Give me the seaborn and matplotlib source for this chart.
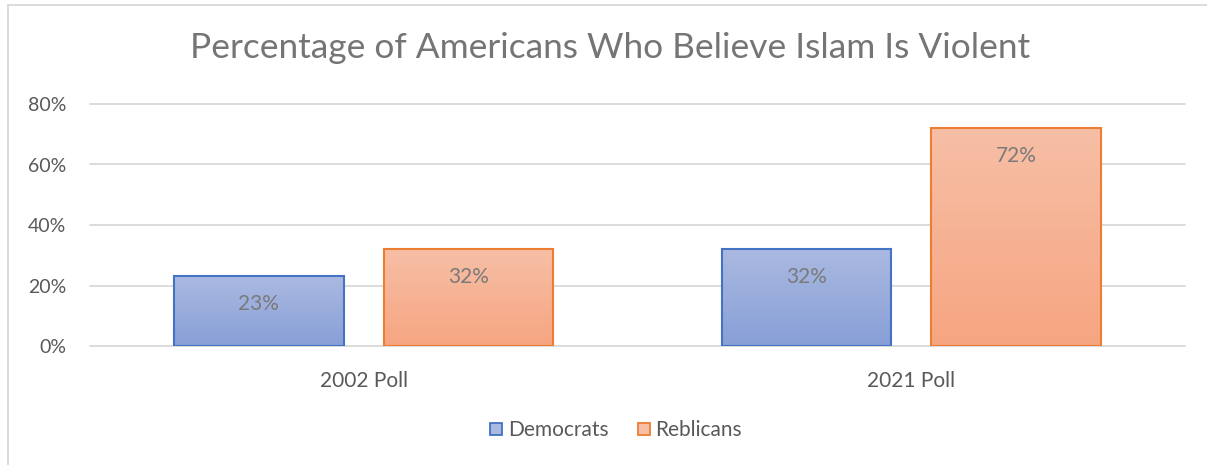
import numpy as np
import pandas as pd
import matplotlib
matplotlib.use("Agg")
import matplotlib.pyplot as plt
from matplotlib.lines import Line2D
from matplotlib.patches import Rectangle
import seaborn as sns

# Poll results (percent)
polls = ["2002 Poll", "2021 Poll"]
democrats = [23, 32]
republicans = [32, 72]
series_names = ["Democrats", "Reblicans"]
y_ticks = [0, 20, 40, 60, 80]

df = pd.DataFrame({
    "poll": polls * 2,
    "party": [series_names[0]] * 2 + [series_names[1]] * 2,
    "value": democrats + republicans,
})

sns.set_theme(style="white")
plt.rcParams["font.family"] = ["Lato", "DejaVu Sans"]

W, H, DPI = 1207, 465, 100
fig = plt.figure(figsize=(W / DPI, H / DPI), dpi=DPI)
ax = fig.add_axes([90 / W, 1 - 346 / H, 1095 / W, (346 - 104) / H])

edge_colors = {"Democrats": "#4472C4", "Reblicans": "#ED7D31"}
grad_colors = {
    "Democrats": ("#AAB9E1", "#889FD7"),
    "Reblicans": ("#F7BFA6", "#F6A581"),
}

sns.barplot(data=df, x="poll", y="value", hue="party", order=polls,
            hue_order=series_names, palette=edge_colors, width=0.7,
            legend=False, ax=ax)

# Reshape bars: narrower with a gap, gradient fill and coloured outline
bar_w = 0.31
offset = 0.1915
for ci, (cont, name) in enumerate(zip(ax.containers, series_names)):
    top_c, bot_c = grad_colors[name]
    cmap = matplotlib.colors.LinearSegmentedColormap.from_list("g", [bot_c, top_c])
    for bar in cont:
        grp = round(bar.get_x() + bar.get_width() / 2)
        new_x = grp + (offset if ci == 1 else -offset) - bar_w / 2
        h = bar.get_height()
        bar.set_x(new_x)
        bar.set_width(bar_w)
        bar.set_facecolor("none")
        bar.set_edgecolor("none")
        grad = np.linspace(0, 1, 256).reshape(-1, 1)
        img = ax.imshow(grad, cmap=cmap, origin="lower", aspect="auto",
                        extent=[new_x, new_x + bar_w, 0, h], zorder=2)
        clip = Rectangle((new_x, 0), bar_w, h, transform=ax.transData,
                         facecolor="none", edgecolor="none")
        ax.add_patch(clip)
        img.set_clip_path(clip)
        ax.add_patch(Rectangle((new_x, 0), bar_w, h, facecolor="none",
                               edgecolor=edge_colors[name], linewidth=1.5,
                               zorder=3))
        ax.text(new_x + bar_w / 2, h - 9.2, f"{h:.0f}%", ha="center",
                va="center", fontsize=15, color="#7A7A7A", zorder=4)

ax.set_aspect("auto")
ax.set_xlim(-0.5, 1.5)
ax.set_ylim(0, 80)

# Gridlines
for t in y_ticks:
    ax.axhline(t, color="#D9D9D9", linewidth=1.3, zorder=1, clip_on=False)

ax.set_yticks(y_ticks)
ax.set_yticklabels([f"{t}%" for t in y_ticks])
ax.tick_params(axis="y", length=0, pad=17, labelsize=14, labelcolor="#595959")
ax.tick_params(axis="x", length=0, pad=18, labelsize=15, labelcolor="#595959")
ax.set_xlabel("")
ax.set_ylabel("")
for s in ax.spines.values():
    s.set_visible(False)

fig.text(610 / W, 1 - 48 / H, "Percentage of Americans Who Believe Islam Is Violent",
         ha="center", va="center", fontsize=25.4, color="#757575")

# Legend
handles = [
    Line2D([], [], marker="s", linestyle="none", markersize=9,
           markerfacecolor=grad_colors[n][0], markeredgecolor=edge_colors[n],
           markeredgewidth=1.3)
    for n in series_names
]
fig.legend(handles, series_names, loc="center", bbox_to_anchor=(615 / W, 1 - 430 / H),
           ncol=2, frameon=False, fontsize=15, labelcolor="#595959",
           handletextpad=0.15, columnspacing=1.3, handlelength=0.8)

# Chart area outline
fig.add_artist(Line2D([7.5 / W, 1], [1 - 5 / H, 1 - 5 / H], color="#D9D9D9", linewidth=1.3))
fig.add_artist(Line2D([7.5 / W, 7.5 / W], [0, 1 - 5 / H], color="#D9D9D9", linewidth=1.3))

fig.savefig("out.png", dpi=DPI)
